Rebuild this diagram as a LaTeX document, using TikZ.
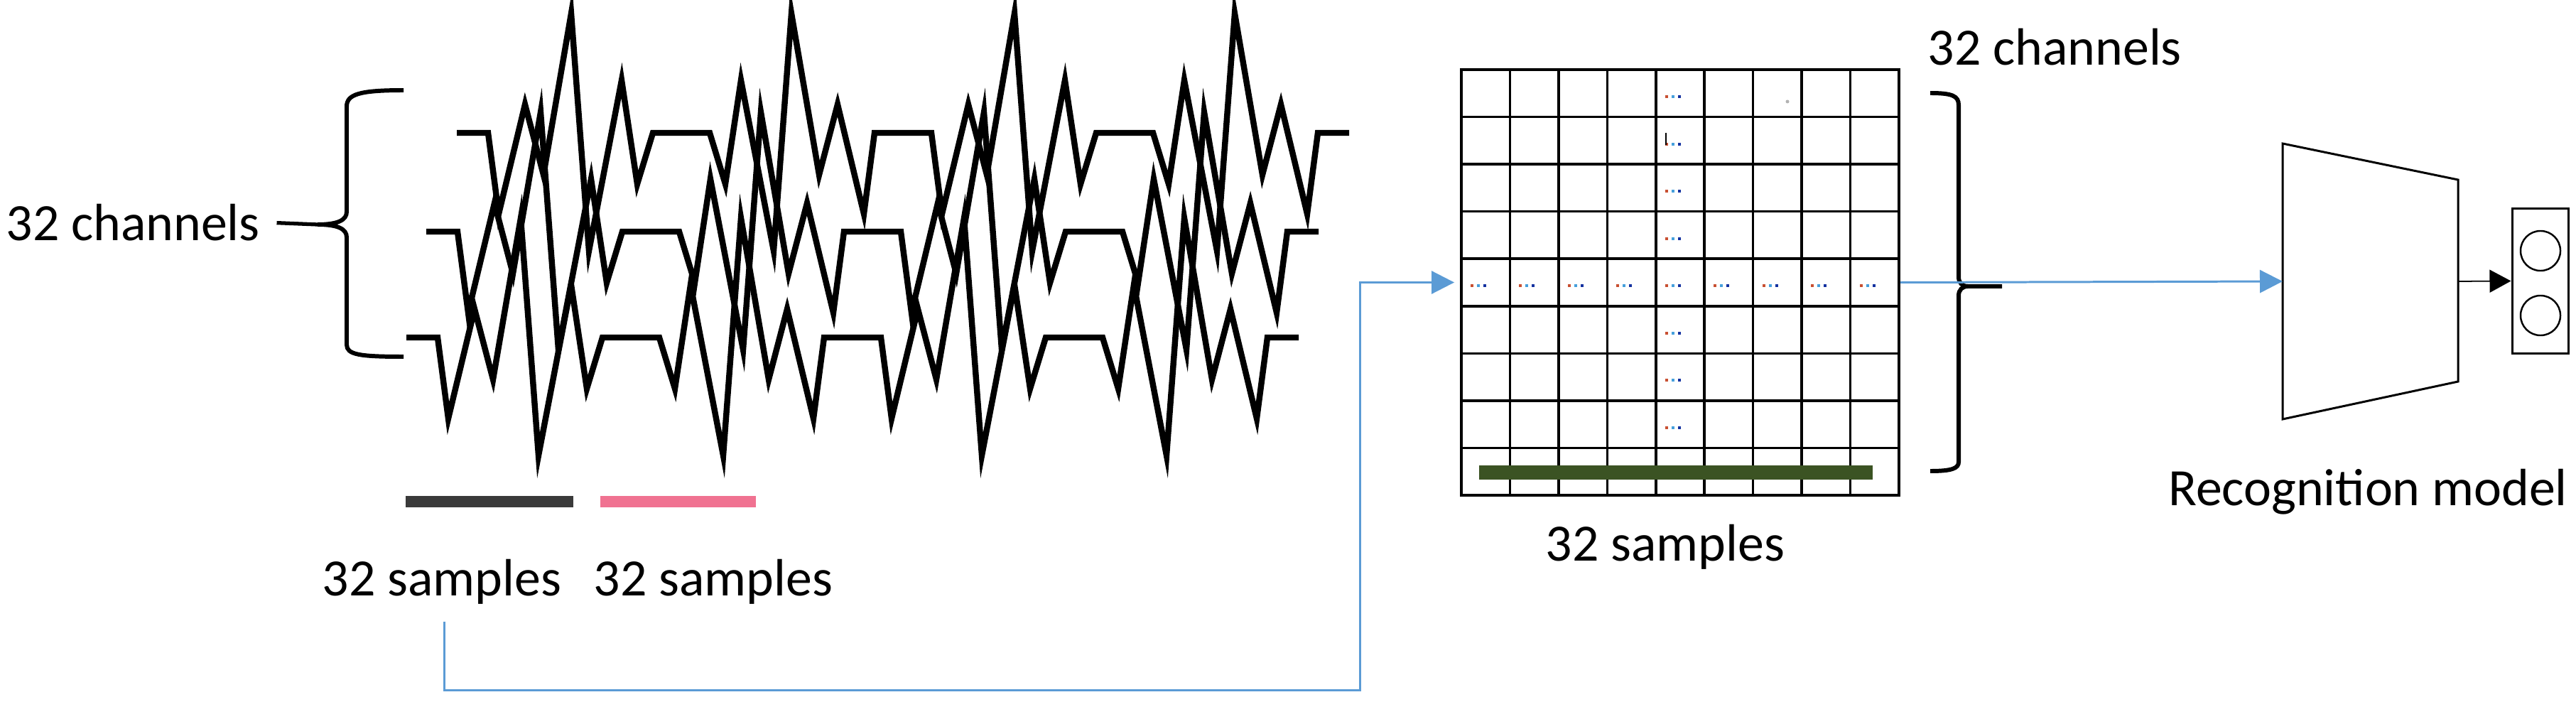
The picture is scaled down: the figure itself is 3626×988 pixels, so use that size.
\documentclass[tikz,border=0pt]{standalone}
\usepackage{fontspec}
\setmainfont{Carlito}
\usetikzlibrary{arrows.meta}

\definecolor{lineblue}{RGB}{91,155,213}
\definecolor{barpink}{RGB}{240,114,145}
\definecolor{bargrey}{RGB}{58,58,58}
\definecolor{bargreen}{RGB}{59,83,35}
\definecolor{dotA}{RGB}{200,80,50}
\definecolor{dotB}{RGB}{70,160,220}
\definecolor{dotC}{RGB}{20,50,160}

% one period pattern, flat - A - flat - B - flat - A - flat - B - flat
\newcommand{\eegsignal}{(0,0) -- (44,0) -- (59,114) -- (96,-40) -- (122,59) -- (161,-168) -- (186,166) -- (232,-74) -- (254,72) -- (276,0)
  -- (356,0) -- (378,72) -- (400,-74) -- (446,166) -- (471,-168) -- (510,59) -- (536,-40) -- (573,114) -- (588,0)
  -- (668,0) -- (683,114) -- (720,-40) -- (746,59) -- (785,-168) -- (810,166) -- (856,-74) -- (878,72) -- (900,0)
  -- (980,0) -- (1002,72) -- (1024,-74) -- (1070,166) -- (1095,-168) -- (1134,59) -- (1160,-40) -- (1197,114) -- (1212,0)
  -- (1256,0)}

\newcommand{\celldots}[2]{%
  \fill[dotA] (2070+#1*68.44,134+#2*66.56) rectangle +(4,4);
  \fill[dotB] (2079+#1*68.44,134+#2*66.56) rectangle +(4,4);
  \fill[dotC] (2088+#1*68.44,134+#2*66.56) rectangle +(4,4);
}

\begin{document}
\begin{tikzpicture}[x=0.01cm,y=-0.01cm]

    \tikzset{
      lbl/.style={
        font=\fontsize{21pt}{25pt}\selectfont,
        inner sep=0pt,
      },
      trace/.style={
        line width=2.4pt,
        black,
      },
      brace/.style={
        line width=1.7pt,
      },
      gridline/.style={
        line width=1pt,
      },
      box/.style={
        draw,
        line width=0.85pt,
      },
      bluearrow/.style={
        draw=lineblue,
        line width=0.85pt,
        -{Triangle[length=0.32cm,width=0.32cm]},
      },
      blackarrow/.style={
        line width=0.5pt,
        -{Triangle[length=0.3cm,width=0.32cm]},
      },
    }
    \useasboundingbox (0,0) rectangle (3626,988);

	% signals
	 \foreach \tx/\ty in {643/187, 600/326, 572/475} {
	   \draw[trace, shift={(\tx,\ty)}] \eegsignal;
	 }

	 \fill[bargrey] (571,698) rectangle (807,714);
	 \fill[barpink] (845,698) rectangle (1064,714);

	 \node[lbl, anchor=base west] (chleft) at (8,339) {32 channels};
	 \node[lbl, anchor=base] (smpA) at (622,838) {32 samples};
	 \node[lbl, anchor=base] (smpB) at (1004,838) {32 samples};

	 \coordinate (lbrace) at (447,316);
	 \draw[brace] (568,127) .. controls (505,127) and (488,133) .. (488,150) -- (488,298)
	   .. controls (488,310) and (475,316) .. (lbrace)
	   .. controls (475,316) and (488,322) .. (488,334) -- (488,485)
	   .. controls (488,499) and (505,502) .. (568,502);
	 \draw[line width=1.5pt] ([xshift=0.23cm]chleft.east) -- (lbrace);

	% map
	 \node[draw, gridline, minimum width=6.16cm, minimum height=5.99cm, inner sep=0pt] (sigmap) at (2365,397.5) {};
	 \foreach \i in {1,...,8} {
	   \draw[gridline] (2057+\i*68.44,98) -- (2057+\i*68.44,697);
	   \draw[gridline] (2057,98+\i*66.56) -- (2673,98+\i*66.56);
	 }
	 \fill[bargreen] (2082,655) rectangle (2636,675);

	 \foreach \r in {0,1,2,3,5,6,7} {
	   \celldots{4}{\r}
	 }
	 \foreach \c in {0,...,8} {
	   \celldots{\c}{4}
	 }
	 \draw[line width=0.6pt] (2345,187) -- (2345,204);
	 \fill[gray!60] (2516,143) circle (2.5);

	 \node[lbl, anchor=base] (smpmap) at (2344,789) {32 samples};
	 \node[lbl, anchor=base west] (chmap) at (2713,92) {32 channels};

	 \coordinate (rbrace) at (2818,403);
	 \draw[brace] (2717,131) .. controls (2748,131) and (2757,135) .. (2757,148) -- (2757,390)
	   .. controls (2757,398) and (2762,403) .. (2770,403) -- (rbrace) -- (2770,403)
	   .. controls (2762,403) and (2757,408) .. (2757,416) -- (2757,650)
	   .. controls (2757,659) and (2748,663) .. (2717,663);

	% model
	 \draw[box] (3213,202) -- (3460,253) -- (3460,537) -- (3213,590) -- cycle;
	 \coordinate (modelin) at (3213,396);
	 \coordinate (modelout) at (3460,396);
	 \node[lbl, anchor=base] (modelname) at (3333,711) {Recognition model};

	 \node[box, minimum width=0.79cm, minimum height=2.03cm, inner sep=0pt] (outbox) at (3575.5,395.5) {};
	 \node[circle, draw, line width=0.7pt, minimum size=0.56cm, inner sep=0pt] (outA) at (3576,353) {};
	 \node[circle, draw, line width=0.7pt, minimum size=0.56cm, inner sep=0pt] (outB) at (3576,444) {};

	% connectors
	 \coordinate (bturn) at (1914,971);
	 \draw[bluearrow, shorten >=0.08cm] ([xshift=0.03cm,yshift=-0.24cm]smpA.south) |- (bturn) |- (sigmap.west);
	 \draw[bluearrow] (sigmap.east) -- (modelin);
	 \draw[blackarrow] (modelout) -- (outbox.west);

\end{tikzpicture}
\end{document}
